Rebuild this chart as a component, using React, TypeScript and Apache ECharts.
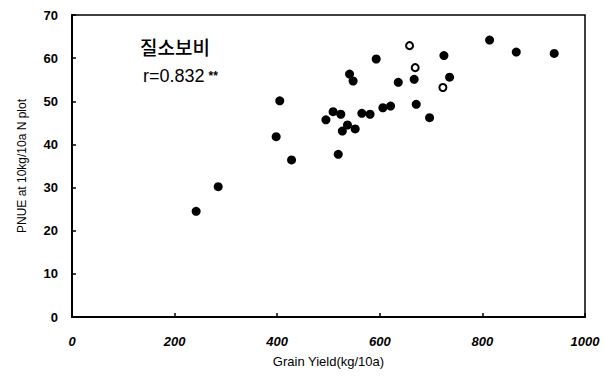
import React, { useEffect, useRef } from "react";
import * as echarts from "echarts";

const grainYield = [405, 398, 428, 285, 242, 495, 509, 524, 537, 527, 552, 565, 581, 606, 621, 671, 697, 519, 541, 548, 593, 636, 667, 736, 723, 669, 658, 725, 814, 866, 940];
const pnue = [50.1, 41.8, 36.4, 30.2, 24.5, 45.7, 47.6, 47.0, 44.5, 43.1, 43.6, 47.2, 47.0, 48.5, 48.9, 49.3, 46.2, 37.7, 56.3, 54.7, 59.8, 54.4, 55.1, 55.6, 53.2, 57.8, 62.9, 60.6, 64.2, 61.4, 61.1];
const hollow = [false, false, false, false, false, false, false, false, false, false, false, false, false, false, false, false, false, false, false, false, false, false, false, false, true, true, true, false, false, false, false];
const xTicks = [0, 200, 400, 600, 800, 1000];
const yTicks = [0, 10, 20, 30, 40, 50, 60, 70];
const xTitle = "Grain Yield(kg/10a)";
const yTitle = "PNUE at 10kg/10a N plot";
const label1 = "질소보비";
const label2 = "r=0.832";

export default function App() {
  const ref = useRef<HTMLDivElement>(null);
  useEffect(() => {
    if (!ref.current) return;
    const chart = echarts.init(ref.current, null, { renderer: "svg" });
    const filled: number[][] = [];
    const open: number[][] = [];
    grainYield.forEach((x, i) => {
      (hollow[i] ? open : filled).push([x, pnue[i]]);
    });
    const font = "'Liberation Sans', Arial, sans-serif";
    chart.setOption({
      animation: false,
      backgroundColor: "#fff",
      grid: {
        left: 72,
        right: 19,
        top: 15,
        bottom: 63,
        show: true,
        borderColor: "#000",
        borderWidth: 1.5,
      },
      xAxis: {
        type: "value",
        min: xTicks[0],
        max: xTicks[xTicks.length - 1],
        interval: 200,
        name: xTitle,
        nameLocation: "middle",
        nameGap: 38,
        nameTextStyle: { color: "#000", fontSize: 13, fontFamily: font },
        axisLine: { show: true, onZero: false, lineStyle: { color: "#000", width: 2 } },
        axisTick: { show: true, inside: true, length: 4, lineStyle: { color: "#000", width: 1.5 } },
        axisLabel: {
          color: "#000",
          fontSize: 13,
          fontStyle: "italic",
          fontWeight: "bold",
          fontFamily: font,
          margin: 18,
          formatter: (v: number) => String(v),
        },
        splitLine: { show: false },
      },
      yAxis: {
        type: "value",
        min: yTicks[0],
        max: yTicks[yTicks.length - 1],
        interval: 10,
        name: yTitle,
        nameLocation: "middle",
        nameGap: 44,
        nameTextStyle: { color: "#000", fontSize: 12, fontFamily: font },
        axisLine: { show: true, onZero: false, lineStyle: { color: "#000", width: 2 } },
        axisTick: { show: true, inside: true, length: 4, lineStyle: { color: "#000", width: 1.5 } },
        axisLabel: {
          color: "#000",
          fontSize: 13,
          fontWeight: "bold",
          fontFamily: font,
          margin: 14,
        },
        splitLine: { show: false },
      },
      series: [
        {
          type: "scatter",
          data: filled,
          symbol: "circle",
          symbolSize: 9,
          itemStyle: { color: "#000", opacity: 1 },
        },
        {
          type: "scatter",
          data: open,
          symbol: "circle",
          symbolSize: 7,
          itemStyle: { color: "#fff", borderColor: "#000", borderWidth: 2, opacity: 1 },
        },
      ],
      graphic: [
        {
          type: "text",
          left: 140,
          top: 37,
          style: {
            text: label1,
            font: "500 19px 'Noto Sans CJK KR'",
            fill: "#000",
          },
        },
        {
          type: "text",
          left: 143,
          top: 67,
          style: {
            text: label2 + "{s|**}",
            font: "18px " + font,
            fill: "#000",
            rich: { s: { fontSize: 12, fontWeight: "bold", fill: "#000", verticalAlign: "middle", padding: [0, 0, 0, 4] } },
          },
        },
      ],
    });
    return () => chart.dispose();
  }, []);
  return (
    <div
      ref={ref}
      style={{ position: "absolute", left: 0, top: 0, width: 604, height: 380, background: "#fff" }}
    />
  );
}
